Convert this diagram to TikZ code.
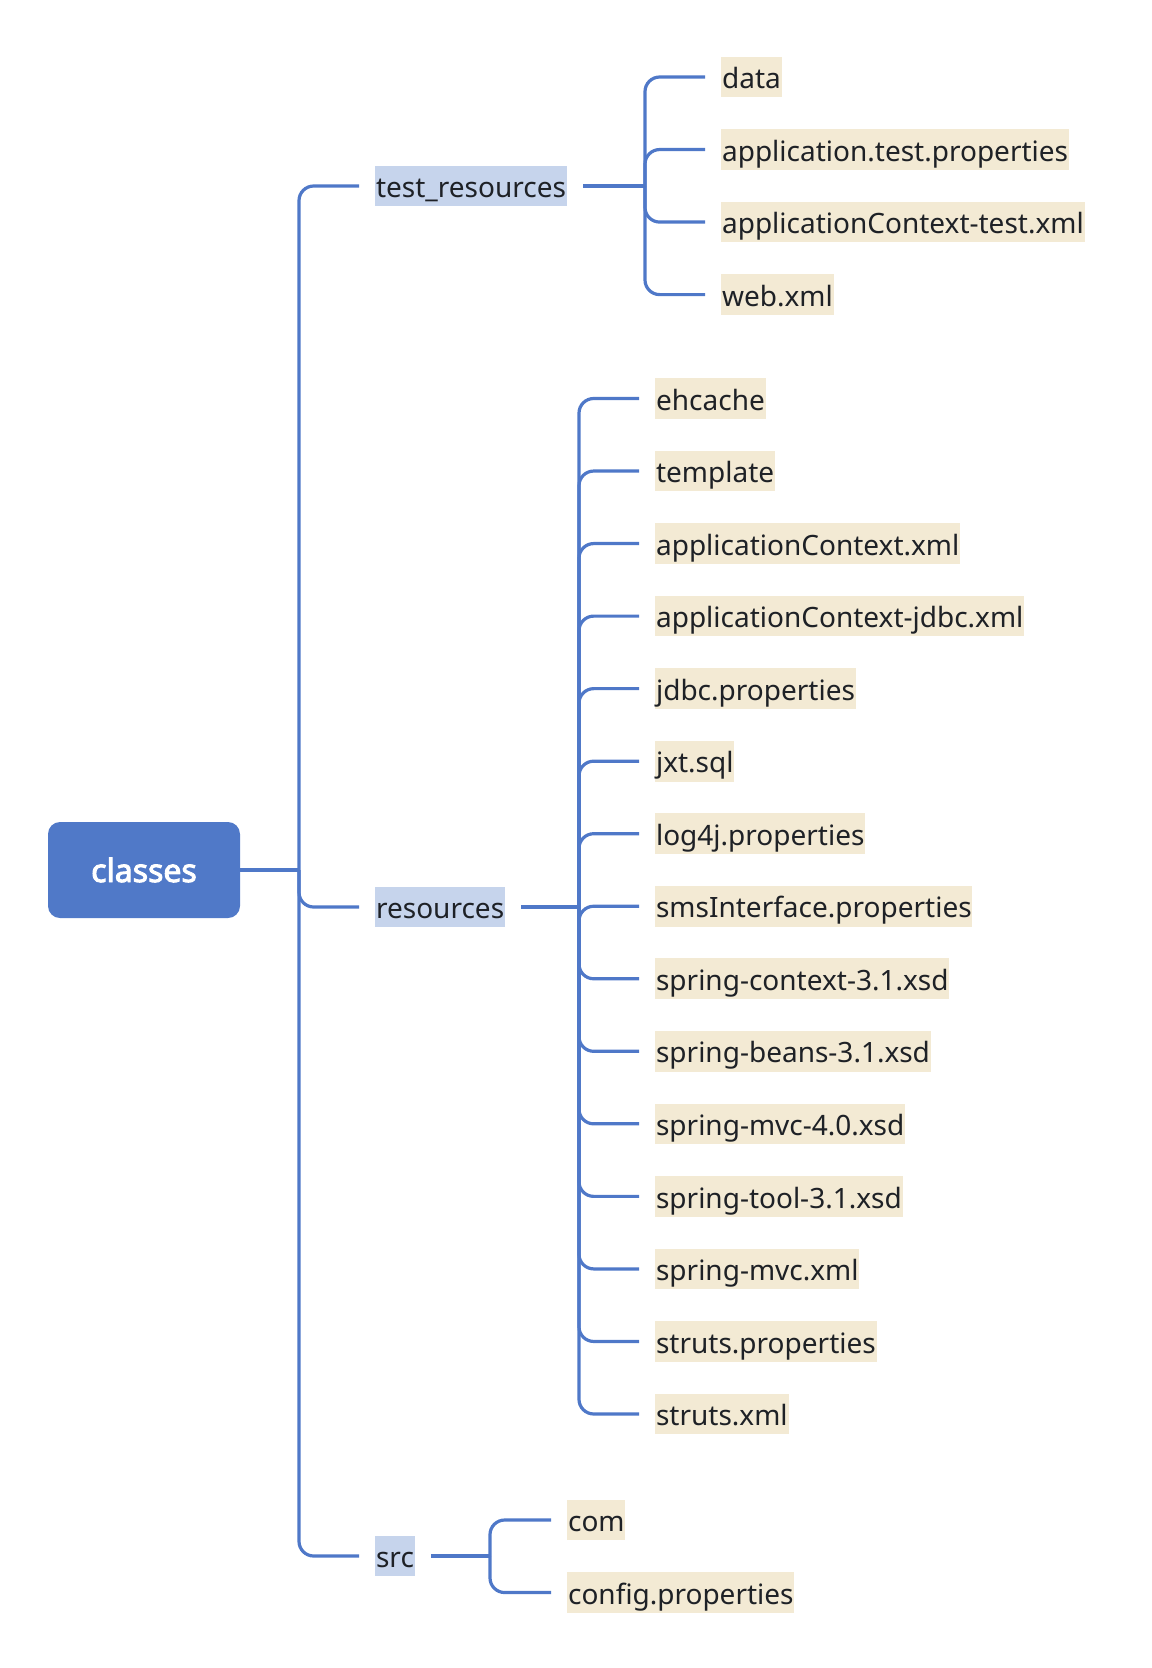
\documentclass[tikz,border=0pt]{standalone}
\usepackage{fontspec}
\setmainfont{Noto Sans}
\newfontfamily\rootfont[FakeBold=3]{Noto Sans}
\usetikzlibrary{positioning}

\definecolor{linkblue}{HTML}{4F78C8}
\definecolor{rootblue}{HTML}{5079C8}
\definecolor{dirbg}{HTML}{C6D4EC}
\definecolor{filebg}{HTML}{F3EAD4}
\definecolor{inktext}{HTML}{1E2126}

\tikzset{
  root/.style={fill=rootblue, rounded corners=9pt, text=white,
    font=\rootfont\fontsize{24}{28}\selectfont,
    minimum width=144pt, minimum height=72pt},
  dir/.style={fill=dirbg, text=inktext, font=\fontsize{21}{25}\selectfont,
    inner xsep=0.6pt, inner ysep=0pt, text height=24pt, text depth=6.5pt,
    anchor=west},
  file/.style={dir, fill=filebg},
  under/.style={below=54.4pt of #1.west, anchor=west},
  link/.style={draw=linkblue, line width=2.4pt, rounded corners=11pt},
  twig/.style={link, shorten >=12pt},
  stem/.style={link, shorten <=12pt}
}

\begin{document}
\begin{tikzpicture}[x=0.75pt, y=-0.75pt]
\useasboundingbox (0,0) rectangle (1152,1668);

% root and first level
\node[root] (classes) at (144,870) {classes};
\coordinate (jm) at (299,870);
\node[dir] (test) at (375,186) {test\_resources};
\node[dir] (res) at (375,907) {resources};
\node[dir] (src) at (375,1556) {src};

% test_resources
\coordinate (jt) at (645,186);
\node[file] (t1) at (721,77) {data};
\node[file, under=t1] (t2) {application.test.properties};
\node[file, under=t2] (t3) {applicationContext-test.xml};
\node[file, under=t3] (t4) {web.xml};

% resources
\coordinate (jr) at (579,907);
\node[file] (r1) at (655,398.5) {ehcache};
\node[file, under=r1] (r2) {template};
\node[file, under=r2] (r3) {applicationContext.xml};
\node[file, under=r3] (r4) {applicationContext-jdbc.xml};
\node[file, under=r4] (r5) {jdbc.properties};
\node[file, under=r5] (r6) {jxt.sql};
\node[file, under=r6] (r7) {log4j.properties};
\node[file, under=r7] (r8) {smsInterface.properties};
\node[file, under=r8] (r9) {spring-context-3.1.xsd};
\node[file, under=r9] (r10) {spring-beans-3.1.xsd};
\node[file, under=r10] (r11) {spring-mvc-4.0.xsd};
\node[file, under=r11] (r12) {spring-tool-3.1.xsd};
\node[file, under=r12] (r13) {spring-mvc.xml};
\node[file, under=r13] (r14) {struts.properties};
\node[file, under=r14] (r15) {struts.xml};

% src
\coordinate (js) at (490,1556);
\node[file] (s1) at (567,1520) {com};
\node[file, under=s1] (s2) {config.properties};

% connectors
\draw[link] (classes.east) -- (jm);
\draw[twig] (jm) |- (test.west);
\draw[twig] (jm) |- (res.west);
\draw[twig] (jm) |- (src.west);

\draw[stem] (test.east) -- (jt);
\draw[twig] (jt) |- (t1.west);
\draw[twig] (jt) |- (t2.west);
\draw[twig] (jt) |- (t3.west);
\draw[twig] (jt) |- (t4.west);

\draw[stem] (res.east) -- (jr);
\draw[twig] (jr) |- (r1.west);
\draw[twig] (jr) |- (r2.west);
\draw[twig] (jr) |- (r3.west);
\draw[twig] (jr) |- (r4.west);
\draw[twig] (jr) |- (r5.west);
\draw[twig] (jr) |- (r6.west);
\draw[twig] (jr) |- (r7.west);
\draw[twig] (jr) |- (r8.west);
\draw[twig] (jr) |- (r9.west);
\draw[twig] (jr) |- (r10.west);
\draw[twig] (jr) |- (r11.west);
\draw[twig] (jr) |- (r12.west);
\draw[twig] (jr) |- (r13.west);
\draw[twig] (jr) |- (r14.west);
\draw[twig] (jr) |- (r15.west);

\draw[stem] (src.east) -- (js);
\draw[twig] (js) |- (s1.west);
\draw[twig] (js) |- (s2.west);
\end{tikzpicture}
\end{document}
